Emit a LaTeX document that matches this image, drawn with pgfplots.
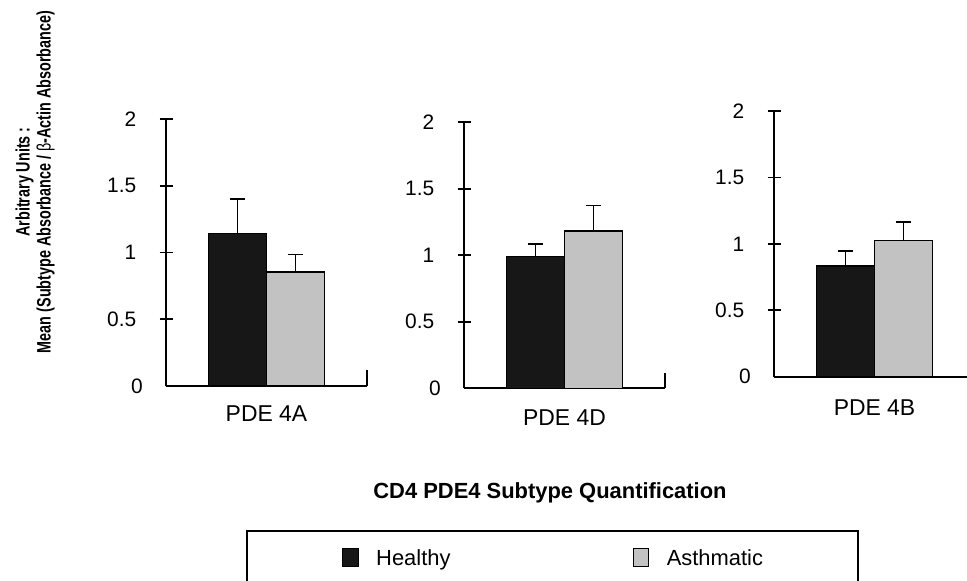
\documentclass[border=0pt]{standalone}
\usepackage{fontspec}
\setmainfont{Liberation Sans}
\usepackage{pgfplots}
\pgfplotsset{compat=1.18}
\definecolor{hbar}{gray}{0.09}
\definecolor{abar}{gray}{0.76}
\pgfplotsset{
  panel/.style={
    scale only axis, width=201bp,
    axis lines=left,
    axis line style={-, line width=1.8bp, black},
    xmin=-0.5, xmax=0.5, ymin=0, ymax=2,
    ybar=0pt, bar width=58bp,
    clip=false,
    /pgf/number format/assume math mode=true,
    tick align=center, major tick length=13bp,
    tick style={black, line width=1.8bp},
    ytick={0.5,1,1.5,2},
    extra y ticks={0},
    extra y tick style={major tick length=0pt},
    yticklabel style={font=\fontsize{21}{21}\selectfont, inner sep=0pt, xshift=-23bp},
    xtick={0},
    xtick style={draw=none},
    extra x ticks={0.5},
    extra x tick labels={},
    extra x tick style={major tick length=15.7bp, tick align=inside, xtick style={draw=black}},
    xticklabel style={font=\fontsize{23}{23}\selectfont, inner sep=0pt},
    error bars/y dir=plus,
    error bars/y explicit,
    error bars/error bar style={line width=1.5bp, black},
    error bars/error mark options={rotate=90, black, line width=1.5bp, mark size=7.8bp},
  },
  hstyle/.style={fill=hbar, draw=black, line width=1.5bp,
    legend image code/.code={\draw[fill=hbar, draw=black, line width=1.2bp] (0bp,-9bp) rectangle (15.6bp,9bp);}},
  astyle/.style={fill=abar, draw=black, line width=1.5bp,
    legend image code/.code={\draw[fill=abar, draw=black, line width=1.2bp] (0bp,-9bp) rectangle (15.6bp,9bp);}},
}
\begin{document}
\begin{tikzpicture}[x=1bp, y=1bp]
\path[use as bounding box] (0,0) rectangle (967,581);
\clip (0,0) rectangle (967,581);

% Panel 1: PDE 4A
\begin{axis}[panel, at={(166bp,195bp)}, anchor=south west, height=267bp,
  xticklabels={PDE 4A}, xticklabel style={yshift=-13bp},
  legend columns=2,
  legend style={at={(0.398,-0.5393)}, anchor=north west, draw=black, line width=1.8bp,
    inner xsep=95bp, inner ysep=17.1bp,
    nodes={inner sep=0pt, text depth=0pt, font=\fontsize{22}{22}\selectfont},
    /tikz/every odd column/.append style={column sep=17.5bp},
    /tikz/every even column/.append style={column sep=182bp}},
  legend cell align=left]
\addplot[hstyle] coordinates {(0,1.144) +- (0,0.256)};
\addlegendentry{Healthy}
\addplot[astyle] coordinates {(0,0.854) +- (0,0.130)};
\addlegendentry{Asthmatic}
\end{axis}

% Panel 2: PDE 4D
\begin{axis}[panel, at={(464bp,192.7bp)}, anchor=south west, height=266bp,
  xticklabels={PDE 4D}, xticklabel style={yshift=-14.5bp}]
\addplot[hstyle] coordinates {(0,0.990) +- (0,0.095)};
\addplot[astyle] coordinates {(0,1.183) +- (0,0.193)};
\end{axis}

% Panel 3: PDE 4B
\begin{axis}[panel, at={(774bp,204.3bp)}, anchor=south west, height=265.7bp,
  xticklabels={PDE 4B}, xticklabel style={yshift=-16.5bp}]
\addplot[hstyle] coordinates {(0,0.833) +- (0,0.113)};
\addplot[astyle] coordinates {(0,1.027) +- (0,0.136)};
\end{axis}

\node[anchor=base, font=\bfseries\fontsize{22}{22}\selectfont] at (550,82.1) {CD4 PDE4 Subtype Quantification};
\node[rotate=90, inner sep=0pt, font=\bfseries\fontsize{19.5}{21}\selectfont] at (36,399)
  {\scalebox{0.74}[1]{\begin{tabular}{@{}c@{}}Arbitrary Units :\\Mean (Subtype Absorbance / {\mdseries β}-Actin Absorbance)\end{tabular}}};
\end{tikzpicture}
\end{document}
